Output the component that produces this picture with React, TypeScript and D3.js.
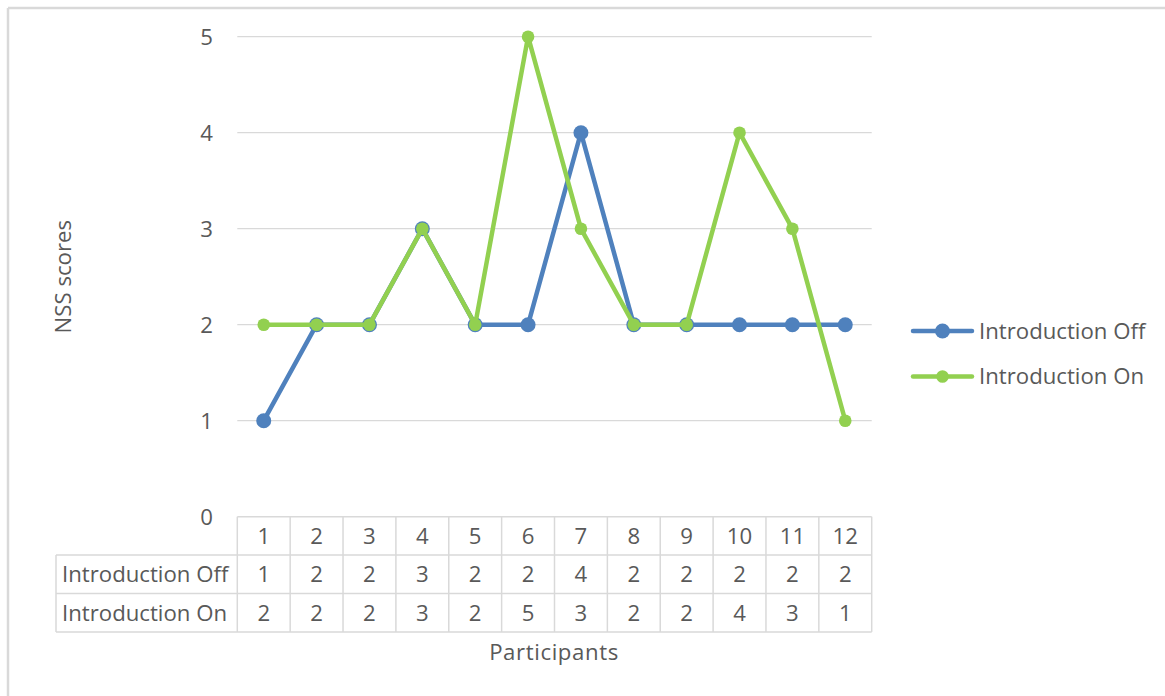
import React from "react";
import * as d3 from "d3";

const categories = ["1", "2", "3", "4", "5", "6", "7", "8", "9", "10", "11", "12"];
const introOff = [1, 2, 2, 3, 2, 2, 4, 2, 2, 2, 2, 2];
const introOn = [2, 2, 2, 3, 2, 5, 3, 2, 2, 4, 3, 1];
const yTicks = [0, 1, 2, 3, 4, 5];
const seriesNames = ["Introduction Off", "Introduction On"];
const seriesColors = ["#4F81BD", "#92D050"];

const FONT = "'Open Sans', sans-serif";
const TXT = "#595959";
const GRID = "#d9d9d9";

export default function App() {
  const W = 1165, H = 696;
  const left = 237.3, right = 871.7, top = 36.7, bottom = 516.7;
  const x = d3.scaleBand<string>().domain(categories).range([left, right]);
  const y = d3.scaleLinear().domain([0, 5]).range([bottom, top]);
  const cx = (c: string) => (x(c) as number) + x.bandwidth() / 2;
  const line = d3
    .line<number>()
    .x((_, i) => cx(categories[i]))
    .y((d) => y(d));

  const rowH = 38.4;
  const tableLeft = 56;
  const rows = [categories, introOff.map(String), introOn.map(String)];
  const series = [introOff, introOn];
  const fs = 22.2;

  return (
    <svg
      width={W}
      height={H}
      style={{ position: "absolute", left: 0, top: 0, background: "#fff" }}
      fontFamily={FONT}
    >
      <rect x={0} y={0} width={W} height={H} fill="#fff" />
      {/* outer frame */}
      <line x1={8} y1={8} x2={W} y2={8} stroke="#d9d9d9" strokeWidth={2.5} />
      <line x1={8} y1={8} x2={8} y2={H} stroke="#d9d9d9" strokeWidth={2.5} />

      {/* gridlines */}
      {yTicks.slice(1).map((t) => (
        <line key={t} x1={left} x2={right} y1={y(t)} y2={y(t)} stroke={GRID} strokeWidth={1.2} />
      ))}
      {/* y tick labels */}
      {yTicks.map((t) => (
        <text
          key={t}
          x={213}
          y={y(t)}
          dy="0.36em"
          textAnchor="end"
          fontSize={fs}
          fill={TXT}
        >
          {t}
        </text>
      ))}

      {/* data table */}
      <g stroke={GRID} strokeWidth={1.5} fill="none">
        <line x1={left} x2={right} y1={bottom} y2={bottom} />
        <line x1={tableLeft} x2={right} y1={bottom + rowH} y2={bottom + rowH} />
        <line x1={tableLeft} x2={right} y1={bottom + 2 * rowH} y2={bottom + 2 * rowH} />
        <line x1={tableLeft} x2={right} y1={bottom + 3 * rowH} y2={bottom + 3 * rowH} />
        <line x1={tableLeft} x2={tableLeft} y1={bottom + rowH} y2={bottom + 3 * rowH} />
        {categories.map((c) => (
          <line key={c} x1={x(c)} x2={x(c)} y1={bottom} y2={bottom + 3 * rowH} />
        ))}
        <line x1={right} x2={right} y1={bottom} y2={bottom + 3 * rowH} />
      </g>
      {rows.map((r, ri) =>
        r.map((v, ci) => (
          <text
            key={ri + "-" + ci}
            x={cx(categories[ci])}
            y={bottom + rowH * ri + rowH / 2}
            dy="0.36em"
            textAnchor="middle"
            fontSize={fs}
            fill={TXT}
          >
            {v}
          </text>
        ))
      )}
      {seriesNames.map((n, i) => (
        <text
          key={n}
          x={62}
          y={bottom + rowH * (i + 1) + rowH / 2}
          dy="0.36em"
          fontSize={fs}
          fill={TXT}
        >
          {n}
        </text>
      ))}

      {/* series */}
      {series.map((s, si) => (
        <g key={si}>
          <path
            d={line(s) as string}
            fill="none"
            stroke={seriesColors[si]}
            strokeWidth={4.5}
            strokeLinejoin="round"
            strokeLinecap="round"
          />
          {s.map((v, i) => (
            <circle
              key={i}
              cx={cx(categories[i])}
              cy={y(v)}
              r={si === 0 ? 7.5 : 6.3}
              fill={seriesColors[si]}
            />
          ))}
        </g>
      ))}

      {/* axis titles */}
      <text
        transform={`translate(71,${(top + bottom) / 2}) rotate(-90)`}
        textAnchor="middle"
        fontSize={fs}
        fill={TXT}
      >
        NSS scores
      </text>
      <text x={554} y={652} dy="0.36em" textAnchor="middle" fontSize={fs} fill={TXT} letterSpacing={0.6}>
        Participants
      </text>

      {/* legend */}
      {seriesNames.map((n, i) => {
        const ly = i === 0 ? 331 : 376.5;
        return (
          <g key={n}>
            <line x1={913} x2={972} y1={ly} y2={ly} stroke={seriesColors[i]} strokeWidth={4.5} strokeLinecap="round" />
            <circle cx={942.5} cy={ly} r={i === 0 ? 7.5 : 6.3} fill={seriesColors[i]} />
            <text x={979} y={ly} dy="0.36em" fontSize={fs} fill={TXT}>
              {n}
            </text>
          </g>
        );
      })}
    </svg>
  );
}
